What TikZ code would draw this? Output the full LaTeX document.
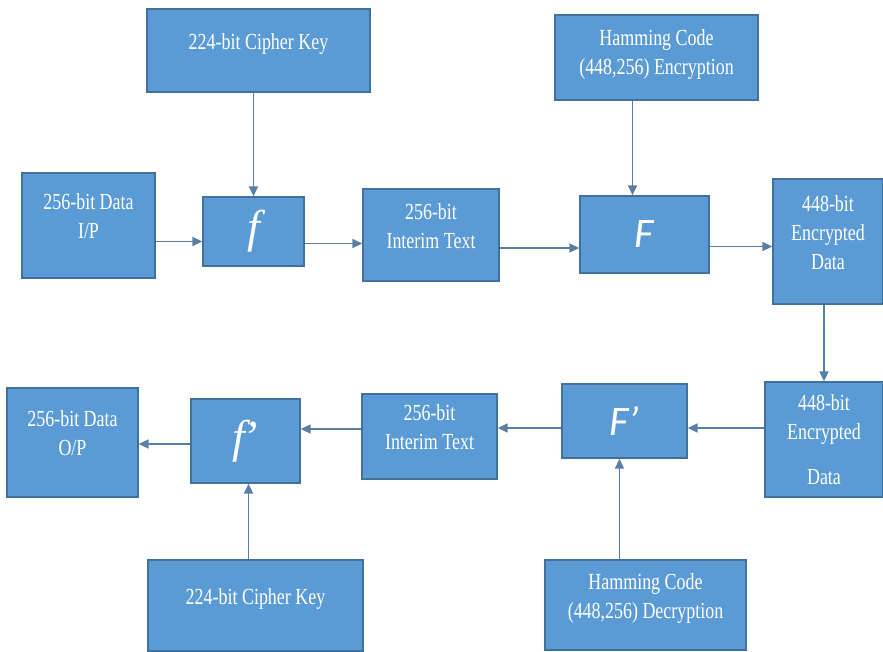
\documentclass[tikz,border=0pt]{standalone}
\usepackage{fontspec}
\setmainfont{Liberation Serif}[FakeStretch=0.78]
\newfontfamily\calfont{Carlito}
\newfontfamily\funfont{Liberation Serif}
\usepackage{tikz}
\usetikzlibrary{arrows.meta}
\usepackage{xcolor}
\definecolor{boxblue}{HTML}{5B9BD5}
\definecolor{boxedge}{HTML}{41719C}
\definecolor{linkblue}{HTML}{5A7FA5}
\tikzset{
  hcbox/.style={draw=boxedge, fill=boxblue, line width=1.3pt, text=white, align=center, inner sep=0pt, text depth=18pt, font=\fontsize{23}{29}\selectfont},
  hcfun/.style={hcbox, text depth=, font=\fontsize{46}{46}\selectfont\funfont\itshape},
  hcFun/.style={hcbox, text depth=, font=\fontsize{42}{42}\selectfont\calfont\itshape},
  hcarrow/.style={-{Triangle[length=10pt,width=9pt]}, draw=linkblue, line width=1.6pt},
}

\begin{document}
\begin{tikzpicture}[x=1pt, y=-1pt]
  \useasboundingbox (0,0) rectangle (883,651);
  % encryption row
  \node[hcbox, minimum width=223pt, minimum height=83pt] (key1) at (258.5,50.5) {224-bit Cipher Key};
  \node[hcbox, text depth=10pt, minimum width=203pt, minimum height=85pt] (hamE) at (656.5,57.5) {Hamming Code\\(448,256) Encryption};
  \node[hcbox, minimum width=133pt, minimum height=105pt] (dataIn) at (88.5,225.5) {256-bit Data\\I/P};
  \node[hcfun, minimum width=101pt, minimum height=69pt] (f) at (253.5,231.5) {f};
  \node[hcbox, minimum width=136pt, minimum height=92pt] (int1) at (431,235) {256-bit\\Interim Text};
  \node[hcFun, minimum width=129pt, minimum height=77pt] (F) at (644.5,234.5) {F};
  \node[hcbox, minimum width=110pt, minimum height=125pt] (enc1) at (828,241.5) {448-bit\\Encrypted\\Data};
  % decryption row
  \node[hcbox, text depth=0pt, minimum width=118pt, minimum height=115pt] (enc2) at (824,439.5) {448-bit\\Encrypted\\[16pt]Data};
  \node[hcFun, minimum width=125pt, minimum height=74pt] (Fp) at (624.5,421) {F’};
  \node[hcbox, minimum width=135pt, minimum height=85pt] (int2) at (429.5,436.5) {256-bit\\Interim Text};
  \node[hcfun, minimum width=109pt, minimum height=84pt] (fp) at (245.5,441) {f\kern-3pt’};
  \node[hcbox, minimum width=131pt, minimum height=109pt] (dataOut) at (72.5,442.5) {256-bit Data\\O/P};
  \node[hcbox, minimum width=215pt, minimum height=91pt] (key2) at (255.5,605.5) {224-bit Cipher Key};
  \node[hcbox, minimum width=201pt, minimum height=90pt] (hamD) at (645.5,605) {Hamming Code\\(448,256) Decryption};

  \draw[hcarrow] (key1.south -| f.north) -- (f.north);
  \draw[hcarrow] ([yshift=-10pt]dataIn.east |- f.west) -- ([yshift=-10pt]f.west);
  \draw[hcarrow] ([yshift=-12pt]f.east) -- ([yshift=-12pt]int1.west |- f.east);
  \draw[hcarrow] ([yshift=-13pt]int1.east) -- ([yshift=-13pt]F.west |- int1.east);
  \draw[hcarrow] ([xshift=-12pt]F.north |- hamE.south) -- ([xshift=-12pt]F.north);
  \draw[hcarrow] ([yshift=-12pt]F.east) -- ([yshift=-12pt]enc1.west |- F.east);
  \draw[hcarrow] (enc1.south -| enc2.north) -- (enc2.north);
  \draw[hcarrow] ([yshift=-7pt]enc2.west |- Fp.east) -- ([yshift=-7pt]Fp.east);
  \draw[hcarrow] ([yshift=-7pt]Fp.west) -- ([yshift=-7pt]int2.east |- Fp.west);
  \draw[hcarrow] ([yshift=12pt]int2.west |- fp.east) -- ([yshift=12pt]fp.east);
  \draw[hcarrow] ([yshift=-3pt]fp.west) -- ([yshift=-3pt]dataOut.east |- fp.west);
  \draw[hcarrow] ([xshift=3pt]key2.north -| fp.south) -- ([xshift=3pt]fp.south);
  \draw[hcarrow] ([xshift=-5pt]hamD.north -| Fp.south) -- ([xshift=-5pt]Fp.south);
\end{tikzpicture}
\end{document}
